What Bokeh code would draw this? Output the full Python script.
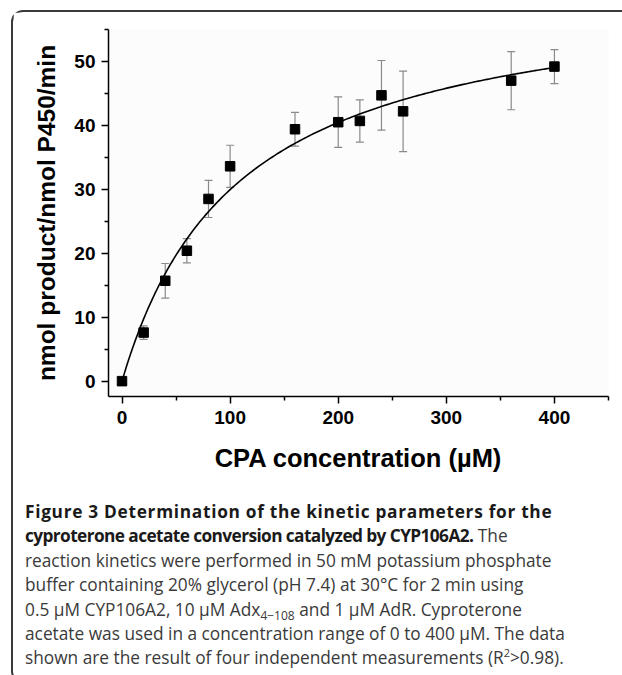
import numpy as np
from bokeh.plotting import figure
from bokeh.models import ColumnDataSource, Whisker, TeeHead, Div, FixedTicker
from bokeh.layouts import column
from bokeh.embed import file_html
from bokeh.resources import INLINE

# ---- data ----
cpa_uM = [0, 20, 40, 60, 80, 100, 160, 200, 220, 240, 260, 360, 400]
rate = [0.0, 7.6, 15.7, 20.4, 28.5, 33.6, 39.4, 40.5, 40.7, 44.7, 42.2, 47.0, 49.2]
rate_sd = [0.0, 1.05, 2.7, 1.9, 2.9, 3.3, 2.65, 3.95, 3.3, 5.45, 6.3, 4.55, 2.65]

# Michaelis-Menten fit shown in the figure
fit_vmax = 62.3
fit_km = 108.0

x_ticks = [0, 100, 200, 300, 400]
y_ticks = [0, 10, 20, 30, 40, 50]

x_title = "CPA concentration (µM)"
y_title = "nmol product/nmol P450/min"

SUB = "<span style='font-size:12px;position:relative;top:4px;line-height:0'>"
SUP = "<span style='font-size:11px;position:relative;top:-7px;line-height:0'>"
B1 = "<span style=\"font-weight:700;color:#1a1a1a;letter-spacing:0.7px\">"
B2 = "<span style=\"font-weight:700;color:#1a1a1a;letter-spacing:-0.6px\">"
caption_lines = [
    B1 + "Figure 3 Determination of the kinetic parameters for the</span>",
    B2 + "cyproterone acetate conversion catalyzed by CYP106A2.</span> The",
    "reaction kinetics were performed in 50 mM potassium phosphate",
    "buffer containing 20% glycerol (pH 7.4) at 30°C for 2 min using",
    "0.5 µM CYP106A2, 10 µM Adx" + SUB + "4−108</span> and 1 µM AdR. Cyproterone",
    "acetate was used in a concentration range of 0 to 400 µM. The data",
    "shown are the result of four independent measurements (R" + SUP + "2</span>&gt;0.98).",
]

# ---- figure ----
src = ColumnDataSource(dict(
    x=cpa_uM, y=rate,
    lower=[v - e for v, e in zip(rate, rate_sd)],
    upper=[v + e for v, e in zip(rate, rate_sd)],
))

p = figure(width=609, height=476, x_range=(-12.5, 450), y_range=(-2.4, 55),
           min_border_left=95, min_border_right=14, min_border_top=17, min_border_bottom=92,
           toolbar_location=None, output_backend="svg")
p.outline_line_color = None
p.background_fill_color = "#fcfcfc"
p.border_fill_color = "white"
p.grid.visible = False

gray = "#8a8a8a"
w = Whisker(source=src, base="x", lower="lower", upper="upper",
            line_color=gray, line_width=1.2,
            upper_head=TeeHead(size=8, line_color=gray, line_width=1.2),
            lower_head=TeeHead(size=8, line_color=gray, line_width=1.2))
w.level = "underlay"
p.add_layout(w)

xs = np.linspace(0, 400, 200)
p.line(xs, fit_vmax * xs / (fit_km + xs), line_color="black", line_width=1.6)
p.scatter("x", "y", source=src, marker="square", size=9.5, fill_color="black", line_color="black")

for ax in (p.xaxis, p.yaxis):
    ax.axis_line_width = 1.5
    ax.major_tick_line_width = 1.5
    ax.minor_tick_line_width = 1.5
    ax.major_tick_in = 0
    ax.major_tick_out = 7
    ax.minor_tick_in = 0
    ax.minor_tick_out = 4
    ax.major_label_text_font = "Liberation Sans"
    ax.major_label_text_font_style = "bold"
    ax.major_label_text_font_size = "19px"
    ax.major_label_text_color = "black"
    ax.axis_label_text_font = "Liberation Sans"
    ax.axis_label_text_font_style = "bold"
    ax.axis_label_text_color = "black"

p.xaxis.axis_label_text_font_size = "25.5px"
p.yaxis.axis_label_text_font_size = "24.5px"
p.xaxis.ticker = FixedTicker(ticks=x_ticks, minor_ticks=[50, 150, 250, 350, 450])
p.yaxis.ticker = FixedTicker(ticks=y_ticks, minor_ticks=[5, 15, 25, 35, 45, 55])
p.xaxis.axis_label = x_title
p.yaxis.axis_label = y_title
p.xaxis.major_label_standoff = 7
p.yaxis.major_label_standoff = 6
p.xaxis.axis_label_standoff = 17
p.yaxis.axis_label_standoff = 11

cap = Div(
    text="<div style=\"font-family:'Open Sans';font-size:17.3px;line-height:24.4px;color:#3a3a3a;"
         "white-space:nowrap;padding:7px 0 0 7px;\">" + "<br>".join(caption_lines) + "</div>",
    width=609, height=183,
)

layout = column(p, cap, spacing=0, styles={
    "border-top": "2px solid #3a3a3a",
    "border-left": "2px solid #3a3a3a",
    "border-bottom": "2px solid #3a3a3a",
    "border-radius": "12px 0 0 12px",
    "margin-left": "11px",
    "margin-top": "10px",
})

open("out.html", "w").write(file_html(layout, INLINE))
